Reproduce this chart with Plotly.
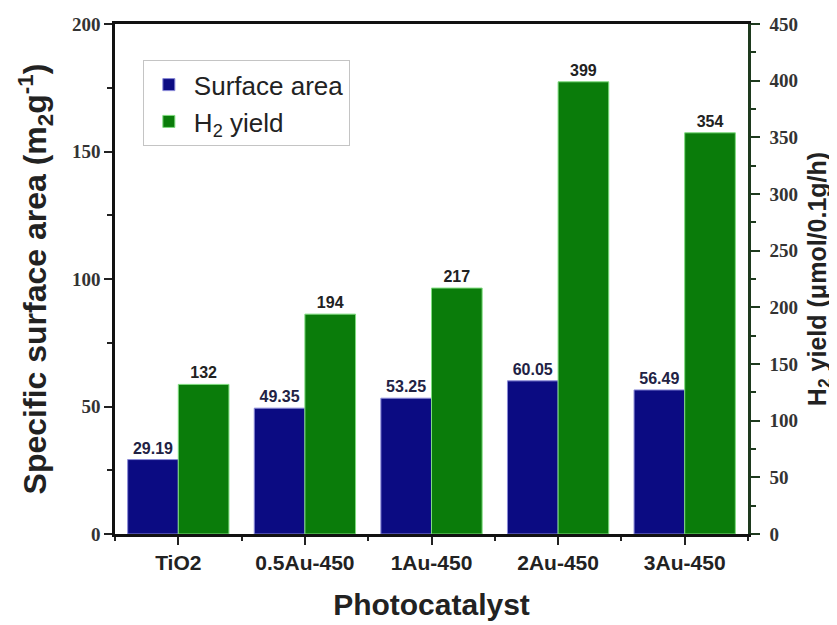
import plotly.graph_objects as go

categories = ["TiO2", "0.5Au-450", "1Au-450", "2Au-450", "3Au-450"]
surface_area = [29.19, 49.35, 53.25, 60.05, 56.49]
h2_yield = [132, 194, 217, 399, 354]
surface_labels = ["29.19", "49.35", "53.25", "60.05", "56.49"]
h2_labels = ["132", "194", "217", "399", "354"]

xpos = list(range(len(categories)))

NAVY = "#0b0b82"
GREEN = "#0a7c0a"

fig = go.Figure()
fig.add_trace(go.Bar(
    x=xpos, y=surface_area, name="Surface area",
    marker=dict(color=NAVY, line=dict(color="#8a8ad8", width=1)),
    width=0.4, offset=-0.4,
    text=["<b>%s</b>" % t for t in surface_labels], textposition="outside",
    textfont=dict(family="Arial", size=16, color="#222244"),
    cliponaxis=False, yaxis="y",
))
fig.add_trace(go.Bar(
    x=xpos, y=h2_yield, name="H<sub>2</sub> yield",
    marker=dict(color=GREEN, line=dict(color="#7fdc7f", width=1)),
    width=0.4, offset=0.0,
    text=["<b>%s</b>" % t for t in h2_labels], textposition="outside",
    textfont=dict(family="Arial", size=16, color="#222222"),
    cliponaxis=False, yaxis="y2",
))

tickfont = dict(family="Liberation Serif", size=19, color="#333333")

fig.update_layout(
    width=829, height=617,
    margin=dict(l=107, r=89, t=16, b=91),
    plot_bgcolor="white", paper_bgcolor="white",
    barmode="overlay",
    showlegend=True,
    legend=dict(
        x=0.044, y=0.929, xanchor="left", yanchor="top",
        bgcolor="white", bordercolor="#c4c4c4", borderwidth=1,
        font=dict(family="Arial", size=26, color="#222222"),
        tracegroupgap=0, itemwidth=40,
    ),
    xaxis=dict(
        range=[-0.5, 4.5], automargin=False,
        tickvals=xpos, ticktext=["<b>%s</b>" % c for c in categories],
        tickfont=dict(family="Arial", size=21, color="#222222"),
        ticks="outside", ticklen=8, tickwidth=2, tickcolor="#222222",
        minor=dict(tick0=0.5, dtick=1, ticks="outside", ticklen=4, tickwidth=2, tickcolor="#222222"),
        showline=True, linecolor="#111111", linewidth=2.5, mirror=True,
        showgrid=False, zeroline=False,
        title=dict(text="<b>Photocatalyst</b>", font=dict(family="Arial", size=30, color="#222222"), standoff=22),
    ),
    xaxis2=dict(
        range=[-0.5, 4.5], overlaying="x", side="top",
        tickvals=xpos, showticklabels=False,
        ticks="inside", ticklen=8, tickwidth=2, tickcolor="#222222",
        minor=dict(tick0=0.5, dtick=1, ticks="inside", ticklen=4, tickwidth=2, tickcolor="#222222"),
        showgrid=False, zeroline=False, showline=False,
    ),
    yaxis=dict(
        range=[0, 200], dtick=50, automargin=False,
        tickfont=tickfont, tickprefix="<b>", ticksuffix="</b>",
        ticks="outside", ticklen=8, tickwidth=2, tickcolor="#222222",
        minor=dict(dtick=25, ticks="outside", ticklen=5, tickwidth=2, tickcolor="#222222"),
        showline=True, linecolor="#111111", linewidth=2.5,
        showgrid=False, zeroline=False,
        title=dict(text="<b>Specific surface area (m<sub>2</sub>g<sup>-1</sup>)</b>",
                   font=dict(family="Arial", size=32, color="#222222"), standoff=16),
    ),
    yaxis2=dict(
        range=[0, 450], dtick=50, overlaying="y", side="right", automargin=False,
        tickfont=tickfont, tickprefix="<b>", ticksuffix="</b>",
        ticks="outside", ticklen=9, tickwidth=2, tickcolor="#1e3a1e",
        ticklabelstandoff=6,
        minor=dict(dtick=25, ticks="outside", ticklen=5, tickwidth=1.5, tickcolor="#1e3a1e"),
        showline=True, linecolor="#1e3a1e", linewidth=2.5,
        showgrid=False, zeroline=False,
        title=dict(text="<b>H<sub>2</sub> yield (μmol/0.1g/h)</b>",
                   font=dict(family="Arial", size=25, color="#222222"), standoff=12),
    ),
)

fig.write_html("out.html")
